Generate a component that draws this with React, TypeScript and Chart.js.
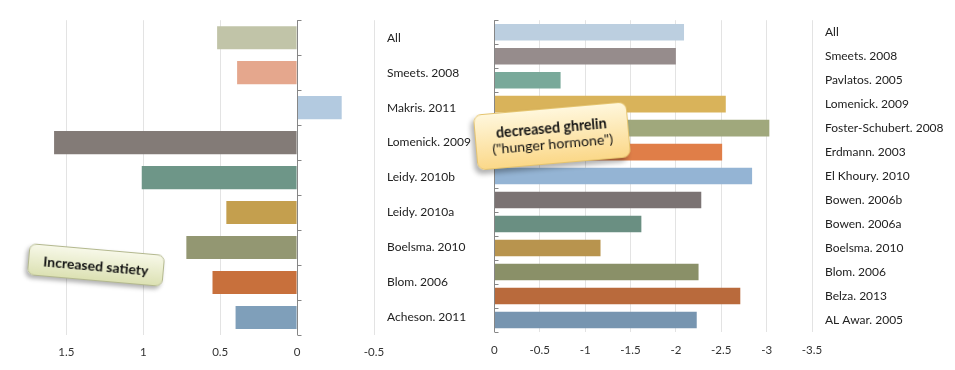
import React, { useEffect, useRef } from "react";
import { Chart, registerables } from "chart.js";
Chart.register(...registerables);

const leftCategories = ["All", "Smeets. 2008", "Makris. 2011", "Lomenick. 2009", "Leidy. 2010b", "Leidy. 2010a", "Boelsma. 2010", "Blom. 2006", "Acheson. 2011"];
const leftValues = [0.52, 0.39, -0.29, 1.58, 1.01, 0.46, 0.72, 0.55, 0.4];
const leftColors = ["#c1c4a8", "#e5a78d", "#b3cae0", "#837b77", "#6e9688", "#c49f4e", "#939772", "#c8703c", "#7f9fba"];
const leftTicks = [1.5, 1, 0.5, 0, -0.5];

const rightCategories = ["All", "Smeets. 2008", "Pavlatos. 2005", "Lomenick. 2009", "Foster-Schubert. 2008", "Erdmann. 2003", "El Khoury. 2010", "Bowen. 2006b", "Bowen. 2006a", "Boelsma. 2010", "Blom. 2006", "Belza. 2013", "AL Awar. 2005"];
const rightValues = [-2.09, -2.0, -0.73, -2.55, -3.03, -2.51, -2.84, -2.28, -1.62, -1.17, -2.25, -2.71, -2.23];
const rightColors = ["#bccfe0", "#968c8c", "#79a99a", "#d9b35a", "#a0a87c", "#e07e48", "#94b4d4", "#7b7373", "#6a8f82", "#b8944e", "#8a9068", "#b96a3c", "#7795b0"];
const rightTicks = [0, -0.5, -1, -1.5, -2, -2.5, -3, -3.5];

const FONT = "Lato, 'Open Sans', sans-serif";

const zeroAxis = {
  id: "zeroAxis",
  afterDatasetsDraw(chart: any) {
    const { ctx, chartArea, scales } = chart;
    const x = Math.round(scales.x.getPixelForValue(0)) + 0.5;
    const n = chart.data.labels.length;
    const h = chartArea.bottom - chartArea.top;
    ctx.save();
    ctx.strokeStyle = "#868686";
    ctx.lineWidth = 1;
    ctx.beginPath();
    ctx.moveTo(x, chartArea.top);
    ctx.lineTo(x, chartArea.bottom);
    for (let i = 0; i <= n; i++) {
      const y = Math.round(chartArea.top + (i * h) / n) + 0.5;
      ctx.moveTo(x, y);
      ctx.lineTo(x + 4, y);
    }
    ctx.stroke();
    ctx.restore();
  },
};

function makeConfig(
  labels: string[],
  values: number[],
  colors: string[],
  ticks: number[],
  min: number,
  max: number,
  reverse: boolean,
  padLeft: number,
  yWidth: number,
  xHeight: number,
  xPad: number,
  barPct: number
): any {
  return {
    type: "bar",
    data: {
      labels,
      datasets: [
        {
          data: values,
          backgroundColor: colors,
          borderWidth: 0,
          categoryPercentage: 1,
          barPercentage: barPct,
        },
      ],
    },
    options: {
      indexAxis: "y",
      responsive: false,
      animation: false,
      layout: { padding: { left: padLeft, top: 16, right: 0, bottom: 0 } },
      plugins: { legend: { display: false }, tooltip: { enabled: false } },
      scales: {
        x: {
          type: "linear",
          min,
          max,
          reverse,
          position: "bottom",
          afterBuildTicks: (s: any) => {
            s.ticks = ticks.map((v) => ({ value: v }));
          },
          afterFit: (s: any) => {
            s.height = xHeight;
          },
          grid: { color: "#e3e3e3", lineWidth: 1, drawTicks: false },
          border: { display: false },
          ticks: {
            padding: xPad,
            color: "#333333",
            font: { family: FONT, size: 11.5 },
            callback: (v: any) => String(v),
          },
        },
        y: {
          position: "right",
          afterFit: (s: any) => {
            s.width = yWidth;
          },
          grid: { display: false, drawTicks: false },
          border: { display: false },
          ticks: {
            padding: 13,
            crossAlign: "near",
            color: "#222222",
            font: { family: FONT, size: 12 },
          },
        },
      },
    },
    plugins: [zeroAxis],
  };
}

function BarChart(props: { config: any; width: number; height: number; left: number }) {
  const ref = useRef<HTMLCanvasElement | null>(null);
  useEffect(() => {
    if (!ref.current) return;
    const chart = new Chart(ref.current, props.config);
    return () => chart.destroy();
  }, []);
  return (
    <canvas
      ref={ref}
      width={props.width}
      height={props.height}
      style={{ position: "absolute", left: props.left, top: 0, width: props.width, height: props.height, display: "block" }}
    />
  );
}

export default function App() {
  const leftConfig = makeConfig(leftCategories, leftValues, leftColors, leftTicks, -0.5, 1.6, true, 51, 106, 35, 10, 0.66);
  const rightConfig = makeConfig(rightCategories, rightValues, rightColors, rightTicks, -3.5, 0, true, 13, 143, 38, 11, 0.69);
  return (
    <div style={{ position: "absolute", left: 0, top: 0, width: 955, height: 370, background: "#ffffff", overflow: "hidden", fontFamily: FONT }}>
      <BarChart config={leftConfig} width={480} height={370} left={0} />
      <BarChart config={rightConfig} width={475} height={370} left={480} />
      <div
        style={{
          position: "absolute",
          left: 96 - 68,
          top: 265 - 16,
          width: 136,
          height: 32,
          boxSizing: "border-box",
          transform: "rotate(5deg)",
          borderRadius: 7,
          border: "1px solid #b3b88e",
          background: "linear-gradient(#f7f8e8, #dce1b3)",
          boxShadow: "-2px 3px 4px rgba(0,0,0,0.3)",
          display: "flex",
          alignItems: "center",
          justifyContent: "center",
          fontWeight: 700,
          fontSize: 14,
          color: "#111",
        }}
      >
        Increased satiety
      </div>
      <div
        style={{
          position: "absolute",
          left: 552 - 77,
          top: 136 - 28,
          width: 154,
          height: 56,
          boxSizing: "border-box",
          transform: "rotate(-5deg)",
          borderRadius: 8,
          border: "1px solid #e4c36e",
          background: "linear-gradient(#fff7dc, #fbd889)",
          boxShadow: "-3px 4px 5px rgba(0,0,0,0.3)",
          display: "flex",
          flexDirection: "column",
          alignItems: "center",
          justifyContent: "center",
          fontSize: 14.2,
          lineHeight: "16px",
          color: "#111",
        }}
      >
        <div style={{ fontWeight: 700 }}>decreased ghrelin</div>
        <div>("hunger hormone")</div>
      </div>
    </div>
  );
}
